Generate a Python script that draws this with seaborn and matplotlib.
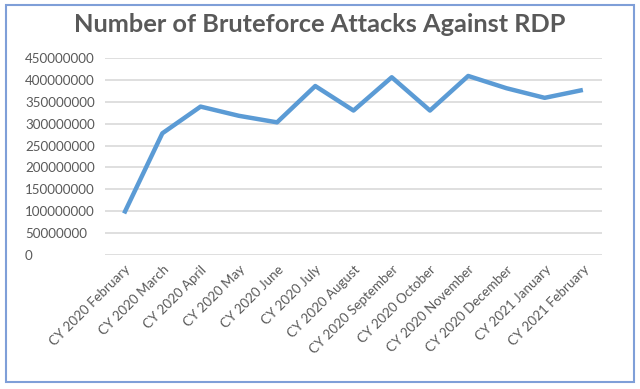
import matplotlib
matplotlib.use("Agg")
import matplotlib.pyplot as plt
import matplotlib.patches as mpatches
import seaborn as sns
import pandas as pd

# Data
months = [
    "CY 2020 February", "CY 2020 March", "CY 2020 April", "CY 2020 May",
    "CY 2020 June", "CY 2020 July", "CY 2020 August", "CY 2020 September",
    "CY 2020 October", "CY 2020 November", "CY 2020 December",
    "CY 2021 January", "CY 2021 February",
]
attacks = [
    95000000, 278000000, 339000000, 318000000, 303000000, 386000000,
    330000000, 406000000, 330000000, 409000000, 381000000, 359000000,
    377000000,
]
y_ticks = [0, 50000000, 100000000, 150000000, 200000000, 250000000,
           300000000, 350000000, 400000000, 450000000]

df = pd.DataFrame({"month": months, "attacks": attacks})
df["pos"] = range(len(months))

sns.set_style("white")
plt.rcParams["font.family"] = ["Lato", "DejaVu Sans"]

text_grey = "#595959"

fig = plt.figure(figsize=(6.4, 3.89), dpi=100)
ax = fig.add_axes([105 / 640, 1 - 255 / 389, 497 / 640, 197 / 389])

sns.lineplot(data=df, x="pos", y="attacks", ax=ax, color="#5B9BD5",
             linewidth=3.2, solid_capstyle="butt")

ax.set_xlim(-0.5, len(months) - 0.5)
ax.set_ylim(0, 450000000)
ax.set_yticks(y_ticks)
ax.set_yticklabels([str(v) for v in y_ticks], ha="left")
ax.set_xticks(df["pos"])
ax.set_xticklabels(months, rotation=45, ha="right", rotation_mode="anchor")

ax.tick_params(axis="y", length=0, pad=57.6, labelsize=9.6, labelcolor=text_grey)
ax.tick_params(axis="x", length=0, pad=6, labelsize=9.6, labelcolor=text_grey)
ax.grid(axis="y", color="#D9D9D9", linewidth=1.2)
ax.set_axisbelow(True)
ax.set_xlabel("")
ax.set_ylabel("")
for s in ax.spines.values():
    s.set_visible(False)

fig.text(0.5, 1 - 24 / 389, "Number of Bruteforce Attacks Against RDP",
         ha="center", va="center", fontsize=18.3, fontweight="bold",
         color=text_grey)

# chart border
fig.patches.append(mpatches.Rectangle((5.5 / 640, 1 - 382 / 389),
                                      628.5 / 640, 377 / 389,
                                      transform=fig.transFigure, fill=False,
                                      edgecolor="#7F9FD8", linewidth=1.5))

fig.savefig("out.png", dpi=100)
